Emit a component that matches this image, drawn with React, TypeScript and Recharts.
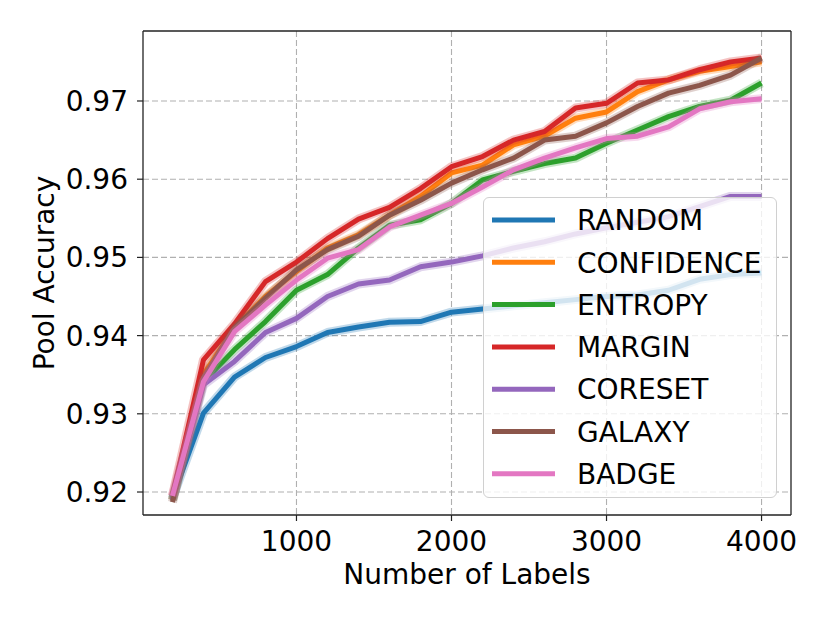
import React from 'react';
import { LineChart, Line, XAxis, YAxis, CartesianGrid, ReferenceLine } from 'recharts';

const labelsCount = [200, 400, 600, 800, 1000, 1200, 1400, 1600, 1800, 2000, 2200, 2400, 2600, 2800, 3000, 3200, 3400, 3600, 3800, 4000];

const RANDOM = [0.9192, 0.9301, 0.9347, 0.9372, 0.9386, 0.9404, 0.9411, 0.9417, 0.9418, 0.9430, 0.9434, 0.9438, 0.9442, 0.9446, 0.9450, 0.9452, 0.9458, 0.9472, 0.9478, 0.9480];
const CONFIDENCE = [0.9190, 0.9350, 0.9410, 0.9450, 0.9482, 0.9512, 0.9529, 0.9554, 0.9578, 0.9608, 0.9618, 0.9644, 0.9655, 0.9678, 0.9686, 0.9712, 0.9727, 0.9738, 0.9744, 0.9750];
const ENTROPY = [0.9190, 0.9341, 0.9382, 0.9418, 0.9458, 0.9478, 0.9512, 0.9541, 0.9548, 0.9569, 0.9599, 0.9610, 0.9620, 0.9627, 0.9646, 0.9663, 0.9680, 0.9693, 0.9701, 0.9723];
const MARGIN = [0.9195, 0.9369, 0.9415, 0.9469, 0.9494, 0.9524, 0.9549, 0.9564, 0.9588, 0.9616, 0.9629, 0.9650, 0.9661, 0.9691, 0.9697, 0.9723, 0.9727, 0.9740, 0.9750, 0.9755];
const CORESET = [0.9190, 0.9337, 0.9367, 0.9404, 0.9422, 0.9450, 0.9466, 0.9471, 0.9488, 0.9494, 0.9502, 0.9512, 0.9520, 0.9530, 0.9538, 0.9545, 0.9552, 0.9565, 0.9578, 0.9578];
const GALAXY = [0.9187, 0.9346, 0.9410, 0.9448, 0.9484, 0.9510, 0.9527, 0.9554, 0.9573, 0.9595, 0.9612, 0.9627, 0.9650, 0.9655, 0.9672, 0.9693, 0.9710, 0.9720, 0.9733, 0.9755];
const BADGE = [0.9195, 0.9341, 0.9405, 0.9439, 0.9471, 0.9499, 0.9510, 0.9539, 0.9554, 0.9569, 0.9590, 0.9612, 0.9627, 0.9640, 0.9652, 0.9655, 0.9667, 0.9690, 0.9699, 0.9703];

const xTicks = [1000, 2000, 3000, 4000];
const yTicks = [0.92, 0.93, 0.94, 0.95, 0.96, 0.97];
const xDomain = [10, 4190];
const yDomain = [0.91706, 0.97895];

const series = [
  { name: 'RANDOM', values: RANDOM, color: '#1f77b4' },
  { name: 'CONFIDENCE', values: CONFIDENCE, color: '#ff7f0e' },
  { name: 'ENTROPY', values: ENTROPY, color: '#2ca02c' },
  { name: 'MARGIN', values: MARGIN, color: '#d62728' },
  { name: 'CORESET', values: CORESET, color: '#9467bd' },
  { name: 'GALAXY', values: GALAXY, color: '#8c564b' },
  { name: 'BADGE', values: BADGE, color: '#e377c2' },
];

const data = labelsCount.map((x, i) => {
  const row: Record<string, number> = { x };
  series.forEach((s) => {
    row[s.name] = s.values[i];
  });
  return row;
});

const FONT = '"DejaVu Sans", sans-serif';
const tickStyle = { fontSize: 28, fill: '#000', fontFamily: FONT };
const SPINE = '#222';

export default function App() {
  return (
    <div style={{ position: 'absolute', left: 0, top: 0, width: 830, height: 623, background: '#fff' }}>
      <LineChart
        width={830}
        height={623}
        data={data}
        margin={{ top: 31, right: 39, bottom: 0, left: 0 }}
      >
        <CartesianGrid stroke="#b0b0b0" strokeDasharray="6 3" strokeWidth={1.1} horizontalValues={yTicks} verticalValues={xTicks} />
        <XAxis
          dataKey="x"
          type="number"
          domain={xDomain}
          ticks={xTicks}
          height={108}
          allowDataOverflow
          tick={tickStyle}
          tickSize={6}
          tickMargin={10}
          axisLine={{ stroke: SPINE, strokeWidth: 1.3 }}
          tickLine={{ stroke: SPINE, strokeWidth: 1.2 }}
          label={{ value: 'Number of Labels', position: 'center', dy: 5, style: { fontSize: 28, fill: '#000', fontFamily: FONT } }}
        />
        <YAxis
          type="number"
          domain={yDomain}
          ticks={yTicks}
          width={143}
          allowDataOverflow
          tick={tickStyle}
          tickSize={6}
          tickMargin={9}
          tickFormatter={(v: number) => v.toFixed(2)}
          axisLine={{ stroke: SPINE, strokeWidth: 1.3 }}
          tickLine={{ stroke: SPINE, strokeWidth: 1.2 }}
          label={{ value: 'Pool Accuracy', position: 'center', angle: -90, dx: -27, style: { fontSize: 28, fill: '#000', fontFamily: FONT, textAnchor: 'middle' } }}
        />
        <ReferenceLine y={yDomain[1]} stroke={SPINE} strokeWidth={1.3} ifOverflow="visible" />
        <ReferenceLine x={xDomain[1]} stroke={SPINE} strokeWidth={1.3} ifOverflow="visible" />
        {series.flatMap((s) => [
          <Line
            key={s.name + '-band'}
            dataKey={s.name}
            stroke={s.color}
            strokeOpacity={0.28}
            strokeWidth={9}
            dot={false}
            activeDot={false}
            strokeLinejoin="round"
            isAnimationActive={false}
            legendType="none"
          />,
          <Line
            key={s.name}
            dataKey={s.name}
            stroke={s.color}
            strokeWidth={5}
            dot={false}
            activeDot={false}
            strokeLinejoin="round"
            isAnimationActive={false}
          />,
        ])}
      </LineChart>
      <div
        style={{
          position: 'absolute',
          left: 483,
          top: 197,
          width: 294,
          height: 301,
          boxSizing: 'border-box',
          background: 'rgba(255,255,255,0.8)',
          border: '1px solid #d0d0d0',
          borderRadius: 6,
        }}
      >
        <svg width={294} height={301} style={{ position: 'absolute', left: -1, top: -1 }}>
          {series.map((s, i) => {
            const cy = 23 + i * 42.3;
            return (
              <g key={s.name}>
                <line x1={9} x2={72} y1={cy} y2={cy} stroke={s.color} strokeWidth={5} />
                <text x={94} y={cy + 10.2} fontSize={28} fontFamily={FONT} fill="#000">
                  {s.name}
                </text>
              </g>
            );
          })}
        </svg>
      </div>
    </div>
  );
}
